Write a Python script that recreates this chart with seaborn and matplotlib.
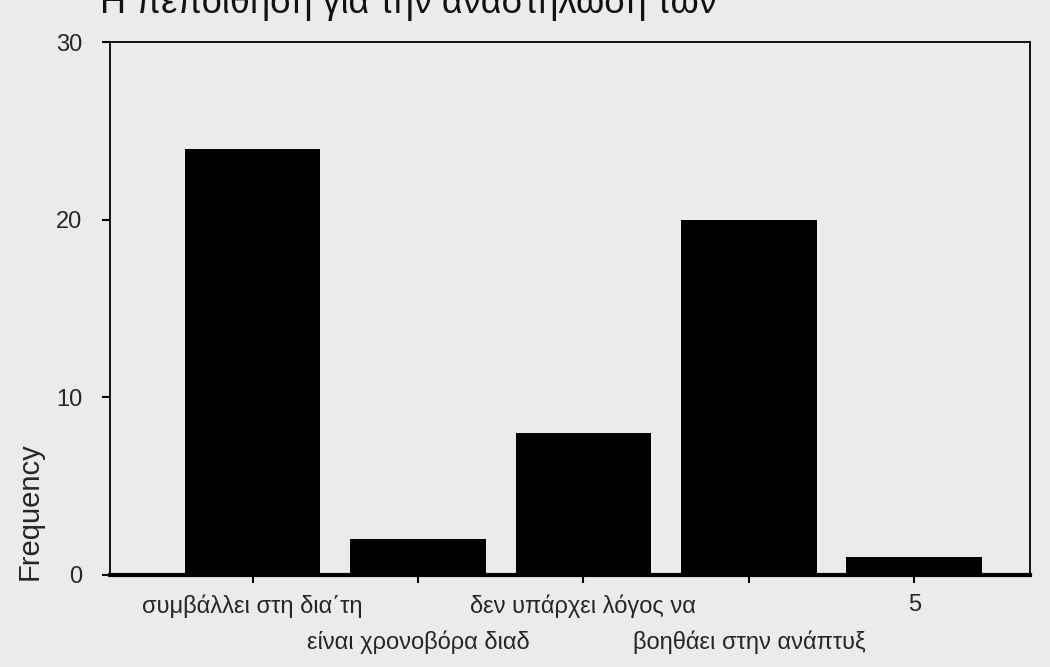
import pandas as pd
import matplotlib.pyplot as plt
import seaborn as sns
import numpy as np

# answers (SPSS truncated value labels) and their counts
categories = ["συμβάλλει στη δια΄τη", "είναι χρονοβόρα διαδ", "δεν υπάρχει λόγος να",
              "βοηθάει στην ανάπτυξ", "5"]
counts = [24, 2, 8, 20, 1]
yticks = [0, 10, 20, 30]

df = pd.DataFrame({"answer": categories, "Frequency": counts})

sns.set_style("white")
plt.rcParams['font.family'] = ['Liberation Sans', 'DejaVu Sans']

fig = plt.figure(figsize=(10.5, 6.67), dpi=100)
fig.patch.set_facecolor("#ebebeb")
ax = fig.add_axes([0.105, 0.138, 0.876, 0.799])
ax.set_facecolor("#ebebeb")

sns.barplot(data=df, x="answer", y="Frequency", color="black", width=0.82,
            saturation=1, linewidth=0, ax=ax)

ax.set_ylim(0, 30)
ax.set_xlim(-0.86, 4.7)
ax.set_yticks(yticks)
ax.tick_params(axis="y", direction="out", length=6, width=1.5, labelsize=17, color="black", left=True, pad=14)
ax.tick_params(axis="x", direction="out", length=6, width=1.5, labelsize=17, color="black", bottom=True, pad=8)

# staggered tick labels like SPSS
ax.set_xticks(range(len(categories)))
ax.set_xticklabels(categories)
for i, t in enumerate(ax.xaxis.get_major_ticks()):
    if i % 2 == 1:
        t.set_pad(34)
ax.set_xlabel("")
ax.set_ylabel("Frequency", fontsize=21)
ax.yaxis.set_label_coords(-0.072, 0.12)

for s in ax.spines.values():
    s.set_visible(True)
    s.set_color("black")
    s.set_linewidth(1.3)
ax.spines["bottom"].set_linewidth(3)

# title cut off at the top of the scan
fig.text(0.095, 1 - 13 / 667, "Η πεποίθηση για την αναστήλωση των", fontsize=26,
         ha="left", va="baseline", color="#111111")

fig.savefig("out.png", dpi=100, facecolor=fig.get_facecolor())
